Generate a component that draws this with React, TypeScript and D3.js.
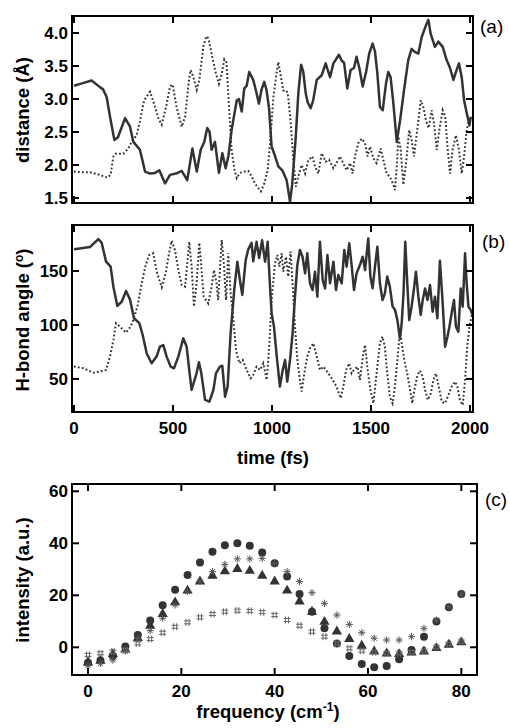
import React from "react";
import * as d3 from "d3";

// panel (a): donor-acceptor distance, two H-bonds (solid / dotted)
const distSolidT = [0, 45, 89, 131, 146, 165, 182, 204, 222, 258, 283, 300, 333, 359, 384, 409, 431, 460, 485, 515, 544, 572, 598, 620, 640, 658, 673, 685, 695, 712, 732, 749, 766, 780, 796, 822, 833, 847, 860, 872, 885, 905, 918, 934, 947, 961, 972, 985, 998, 1015, 1032, 1052, 1074, 1091, 1102, 1120, 1133, 1147, 1158, 1170, 1180, 1195, 1208, 1226, 1251, 1271, 1293, 1310, 1338, 1352, 1364, 1380, 1397, 1414, 1427, 1441, 1458, 1475, 1491, 1508, 1520, 1532, 1545, 1559, 1576, 1587, 1599, 1613, 1630, 1647, 1667, 1688, 1705, 1722, 1739, 1756, 1778, 1790, 1801, 1823, 1840, 1862, 1882, 1899, 1916, 1929, 1944, 1958, 1970, 1983, 1997, 2004];
const distSolidV = [3.2, 3.24, 3.28, 3.18, 3.15, 3.03, 2.73, 2.38, 2.42, 2.71, 2.58, 2.35, 2.23, 1.9, 1.87, 1.88, 1.92, 1.72, 1.85, 1.87, 1.91, 1.77, 2.25, 1.9, 2.23, 2.35, 2.56, 2.5, 2.23, 2.35, 1.88, 2.18, 1.95, 2.14, 2.53, 2.98, 3.0, 2.81, 3.16, 3.2, 3.41, 3.29, 3.14, 2.93, 3.14, 3.26, 3.14, 2.86, 2.28, 2.14, 1.98, 1.92, 1.77, 1.44, 1.71, 2.43, 3.09, 3.52, 3.41, 3.09, 2.95, 2.86, 2.98, 3.29, 3.36, 3.54, 3.33, 3.54, 3.67, 3.58, 3.55, 3.16, 3.44, 3.47, 3.64, 3.47, 3.19, 3.41, 3.69, 3.84, 3.72, 3.39, 2.88, 2.83, 3.24, 3.41, 3.33, 2.93, 2.35, 2.68, 3.14, 3.59, 3.76, 3.71, 3.69, 3.94, 4.12, 4.2, 3.99, 3.79, 3.87, 3.79, 3.59, 3.47, 3.29, 3.41, 3.54, 3.33, 2.98, 2.79, 2.6, 2.73];

const distDotT = [0, 40, 81, 131, 168, 185, 199, 210, 249, 274, 291, 316, 333, 354, 384, 404, 426, 443, 465, 485, 498, 518, 544, 561, 581, 589, 602, 620, 633, 653, 668, 679, 695, 712, 732, 746, 759, 770, 783, 796, 810, 822, 838, 860, 880, 897, 914, 931, 944, 961, 978, 990, 1007, 1024, 1032, 1045, 1057, 1074, 1082, 1096, 1108, 1120, 1133, 1150, 1167, 1183, 1204, 1217, 1234, 1251, 1271, 1288, 1310, 1326, 1343, 1364, 1377, 1394, 1407, 1419, 1436, 1453, 1470, 1482, 1495, 1512, 1528, 1549, 1562, 1579, 1596, 1613, 1621, 1630, 1638, 1650, 1663, 1677, 1693, 1705, 1717, 1727, 1739, 1751, 1764, 1778, 1791, 1806, 1818, 1832, 1845, 1862, 1875, 1886, 1899, 1912, 1929, 1944, 1958, 1970, 1983, 2000];
const distDotV = [1.9, 1.89, 1.89, 1.85, 1.81, 1.85, 2.13, 2.17, 2.17, 2.25, 2.35, 2.45, 2.66, 2.98, 3.11, 2.93, 2.71, 2.61, 2.88, 3.19, 3.22, 2.88, 2.58, 2.73, 3.29, 3.44, 3.34, 3.14, 3.29, 3.79, 3.95, 3.92, 3.69, 3.44, 3.23, 3.38, 3.6, 3.55, 2.88, 2.23, 1.93, 1.8, 1.88, 1.9, 1.91, 1.83, 1.72, 1.65, 1.6, 1.72, 1.92, 2.33, 3.03, 3.41, 3.56, 3.33, 3.13, 3.13, 3.03, 2.58, 2.08, 1.67, 1.83, 2.0, 1.87, 2.07, 2.13, 1.98, 1.87, 2.18, 2.05, 2.08, 1.95, 2.03, 2.13, 2.0, 1.92, 2.03, 1.87, 2.13, 2.33, 2.4, 2.33, 2.13, 2.28, 2.1, 2.03, 2.25, 2.08, 1.87, 1.82, 1.7, 1.62, 1.98, 2.43, 2.23, 1.7, 2.03, 2.53, 2.38, 2.13, 2.38, 2.67, 2.98, 2.88, 2.67, 2.56, 2.83, 2.63, 2.23, 2.53, 2.83, 2.73, 2.28, 1.87, 2.23, 2.45, 2.23, 1.87, 2.13, 2.53, 2.73];

// panel (b): H-bond angle
const angSolidT = [0, 10, 81, 123, 140, 162, 185, 199, 219, 241, 263, 283, 303, 330, 347, 367, 392, 417, 434, 451, 468, 488, 505, 527, 552, 569, 582, 594, 619, 631, 643, 662, 684, 704, 717, 737, 749, 763, 776, 791, 810, 825, 838, 850, 867, 880, 897, 905, 922, 935, 950, 965, 978, 990, 998, 1010, 1024, 1040, 1054, 1066, 1077, 1091, 1104, 1116, 1128, 1141, 1154, 1167, 1178, 1192, 1205, 1217, 1229, 1242, 1256, 1268, 1280, 1293, 1310, 1323, 1335, 1352, 1365, 1377, 1390, 1402, 1414, 1427, 1444, 1458, 1470, 1486, 1497, 1508, 1520, 1532, 1545, 1558, 1570, 1582, 1595, 1609, 1621, 1633, 1646, 1655, 1664, 1673, 1683, 1693, 1705, 1717, 1727, 1739, 1751, 1761, 1773, 1785, 1798, 1811, 1823, 1835, 1848, 1862, 1874, 1886, 1896, 1907, 1919, 1929, 1941, 1953, 1963, 1975, 1983, 1992, 2003, 2013];
const angSolidV = [170, 170.4, 172.2, 179.6, 176, 158.6, 154, 135.5, 117.6, 121.5, 131.5, 123.5, 106.2, 101.7, 90.7, 73.8, 64.5, 70.7, 79.9, 81.4, 70.7, 61.4, 59.9, 70.7, 87.7, 79.9, 58.3, 39.8, 55.2, 65.5, 55.2, 30.6, 29, 39.8, 55.2, 61.4, 62.3, 33.6, 43, 92.3, 134, 158.6, 141.5, 127.8, 160, 170, 176, 159, 177, 162, 178.5, 158.6, 177, 135.5, 111, 98.5, 70.7, 42.9, 58.3, 67.6, 47.5, 67.6, 92.3, 126.2, 155.6, 169.4, 163.2, 147.8, 166.4, 138.6, 132.4, 149.4, 126.2, 177, 141.5, 133.8, 164.8, 138.6, 158.6, 132.4, 146.3, 138.6, 169.4, 154, 175.6, 155.5, 132.4, 147.8, 155.5, 163.2, 150.9, 180.2, 144.8, 134, 154, 172.5, 138.6, 123.1, 129.3, 144.8, 135.5, 117, 114, 104.7, 87.7, 101.6, 129.3, 177, 138.6, 104.6, 117, 133.8, 149.4, 126.2, 109.3, 123.1, 133.8, 123.1, 137, 112.3, 126.2, 106.2, 159.5, 120, 79.9, 89.1, 98.4, 110.8, 123.1, 98.4, 93.8, 133.8, 117, 166.4, 138.6, 117, 114, 109.3];

const angDotT = [0, 46, 101, 162, 182, 199, 212, 232, 263, 286, 300, 320, 342, 362, 380, 400, 420, 443, 463, 480, 493, 510, 527, 544, 561, 572, 582, 594, 606, 619, 633, 643, 655, 678, 695, 707, 720, 728, 746, 758, 768, 779, 791, 805, 818, 835, 852, 872, 892, 905, 922, 939, 956, 973, 986, 998, 1015, 1027, 1037, 1049, 1057, 1071, 1082, 1094, 1104, 1116, 1128, 1141, 1150, 1163, 1178, 1192, 1209, 1226, 1242, 1259, 1285, 1306, 1326, 1347, 1360, 1374, 1390, 1402, 1414, 1431, 1444, 1461, 1470, 1481, 1497, 1512, 1528, 1545, 1558, 1570, 1582, 1595, 1609, 1621, 1633, 1646, 1660, 1671, 1683, 1697, 1708, 1722, 1735, 1747, 1761, 1773, 1787, 1802, 1815, 1828, 1842, 1857, 1874, 1891, 1907, 1924, 1936, 1949, 1963, 1975, 1986, 1997, 2009];
const angDotV = [61.5, 59.9, 55.8, 58.3, 70.7, 86.1, 101.6, 98.5, 92.9, 98.5, 104.6, 117, 138.6, 155.5, 164.8, 166.4, 147.8, 134.9, 147.8, 166.4, 178, 169.4, 150.9, 137, 135.5, 157, 177, 154, 117, 138.6, 176.2, 154, 126.2, 120, 135.5, 150.9, 138.6, 123.1, 178.7, 154, 123.1, 166.4, 129.3, 104.6, 76.8, 64.5, 67.6, 58.3, 50.6, 53.7, 61.4, 58.3, 64.5, 49.1, 79.9, 123.1, 157.1, 164.8, 154, 166.4, 149.4, 163.2, 144.8, 167.9, 138.6, 98.5, 67.6, 49.1, 38.4, 55.2, 70.7, 78.4, 83, 70.7, 58.3, 61.4, 55.2, 49.1, 42.9, 32.2, 42.9, 58.3, 64.5, 55.2, 58.3, 61.4, 49.1, 73.8, 81.5, 61.4, 39.8, 27.5, 55.2, 83, 89.2, 79.9, 55.2, 33.6, 27.5, 42.9, 67.6, 93.8, 76.8, 64.5, 55.2, 39.8, 27.5, 42.9, 53.7, 57.7, 52.2, 39.8, 30.6, 36.7, 49.1, 55.2, 42.9, 29, 27.5, 35.2, 42.9, 47.5, 42.9, 30.6, 25.9, 49.1, 79.9, 98.5, 109.3];

// panel (c): spectra
const freq = [0, 2.67, 5.33, 8, 10.67, 13.33, 16, 18.67, 21.33, 24, 26.67, 29.33, 32, 34.67, 37.33, 40, 42.67, 45.33, 48, 50.67, 53.33, 56, 58.67, 61.33, 64, 66.67, 69.33, 72, 74.67, 77.33, 80];
const circleV = [-5.9, -5.1, -3.3, 0.3, 4.7, 10.3, 16.2, 22.1, 27.8, 32.6, 36.7, 39.2, 40.0, 39.1, 36.5, 32.3, 27.2, 20.5, 13.7, 7.3, 1.5, -3.3, -6.4, -7.7, -7.2, -4.6, -1.0, 4.1, 9.9, 15.4, 20.5];
const triangleV = [-5.5, -4.9, -2.3, -0.5, 3.8, 8.6, 13.1, 17.6, 22.1, 25.6, 27.8, 29.5, 30.4, 29.7, 27.8, 25.6, 22.1, 17.9, 14.0, 10.1, 6.4, 3.5, 0.9, -1.3, -2.1, -2.3, -1.7, -1.3, 0, 1.3, 2.2];
const asteriskV = [-7, -6.2, -4.9, -1.5, 3.5, 6.4, 11.2, 16.3, 21.4, 25.3, 29.1, 31.9, 34.0, 34.0, 34.2, 32.1, 29.1, 25.3, 21.0, 16.9, 12.4, 8.8, 5.6, 3.5, 2.8, 2.8, 4.1, 7.3, 10.5, 15.6, 20.5];
const hashV = [-2.9, -2.3, -1.7, -1.0, 1.5, 3.2, 5.6, 7.9, 9.6, 11.5, 12.8, 13.7, 14.1, 14.0, 13.5, 12.4, 10.5, 8.3, 6.0, 4.1, 1.5, -0.4, -1.3, -1.9, -2.3, -2.3, -1.9, -1.3, 0, 1.3, 2.2];

const timeTicks = [0, 500, 1000, 1500, 2000];
const distTicks = [1.5, 2.0, 2.5, 3.0, 3.5, 4.0];
const angTicks = [50, 100, 150];
const freqTicks = [0, 20, 40, 60, 80];
const intTicks = [0, 20, 40, 60];

const FONT = "'Liberation Sans', Arial, Helvetica, sans-serif";
const INK = "#333";
const TICK = 7;
const TICK_FS = 17;
const TITLE_FS = 18.5;

type Scale = d3.ScaleLinear<number, number>;

function Frame({ x, y, xTicks, yTicks, yFmt, xLabels }: {
  x: Scale; y: Scale; xTicks: number[]; yTicks: number[]; yFmt: (v: number) => string; xLabels: boolean;
}) {
  const [x0, x1] = x.range();
  const [y0, y1] = y.range(); // y0 bottom, y1 top
  return (
    <g>
      {xTicks.map((t) => (
        <g key={"x" + t}>
          <line x1={x(t)} x2={x(t)} y1={y0} y2={y0 - TICK} stroke="#000" strokeWidth={2} />
          <line x1={x(t)} x2={x(t)} y1={y1} y2={y1 + TICK} stroke="#000" strokeWidth={2} />
          {xLabels && (
            <text x={x(t)} y={y0 + 22} textAnchor="middle" fontSize={TICK_FS} fontWeight="bold" fontFamily={FONT}>
              {t}
            </text>
          )}
        </g>
      ))}
      {yTicks.map((t) => (
        <g key={"y" + t}>
          <line x1={x0} x2={x0 + TICK} y1={y(t)} y2={y(t)} stroke="#000" strokeWidth={2} />
          <line x1={x1} x2={x1 - TICK} y1={y(t)} y2={y(t)} stroke="#000" strokeWidth={2} />
          <text x={x0 - 4} y={y(t)} dy="0.36em" textAnchor="end" fontSize={TICK_FS} fontWeight="bold" fontFamily={FONT}>
            {yFmt(t)}
          </text>
        </g>
      ))}
      <rect x={x0} y={y1} width={x1 - x0} height={y0 - y1} fill="none" stroke="#000" strokeWidth={2} />
    </g>
  );
}

function YTitle({ cy, children }: { cy: number; children: React.ReactNode }) {
  return (
    <text transform={`translate(29,${cy}) rotate(-90)`} textAnchor="middle" fontSize={TITLE_FS} fontWeight="bold" fontFamily={FONT}>
      {children}
    </text>
  );
}

export default function App() {
  const xT = d3.scaleLinear().domain([-10, 2015]).range([72, 473]);
  const yA = d3.scaleLinear().domain([1.424, 4.258]).range([203, 16]);
  const yB = d3.scaleLinear().domain([19.4, 192.6]).range([412, 225]);
  const xF = d3.scaleLinear().domain([-3.43, 83.36]).range([72, 477]);
  const yC = d3.scaleLinear().domain([-10.65, 62.8]).range([675, 484]);

  const path = (T: number[], V: number[], y: Scale) =>
    d3.line<number>().x((_d, i) => xT(T[i])).y((d) => y(d))(V) || "";

  const tri = d3.symbol().type(d3.symbolTriangle).size(46)() || "";

  const solid = { fill: "none", stroke: INK, strokeWidth: 2.5, strokeLinejoin: "round" as const };
  const dotted = { fill: "none", stroke: INK, strokeWidth: 2, strokeDasharray: "1.8 2.2" };

  return (
    <svg width={509} height={728} style={{ position: "absolute", left: 0, top: 0, background: "#fff" }}>
      {/* (a) */}
      <path d={path(distDotT, distDotV, yA)} {...dotted} />
      <path d={path(distSolidT, distSolidV, yA)} {...solid} />
      <Frame x={xT} y={yA} xTicks={timeTicks} yTicks={distTicks} yFmt={d3.format(".1f")} xLabels={false} />
      <YTitle cy={110}>distance (Å)</YTitle>
      <text x={480} y={33} fontSize={19} fontFamily={FONT}>(a)</text>

      {/* (b) */}
      <path d={path(angDotT, angDotV, yB)} {...dotted} />
      <path d={path(angSolidT, angSolidV, yB)} {...solid} />
      <Frame x={xT} y={yB} xTicks={timeTicks} yTicks={angTicks} yFmt={String} xLabels={true} />
      <YTitle cy={320}>
        H-bond angle (<tspan fontSize={12} dy="-6">o</tspan><tspan dy="6">)</tspan>
      </YTitle>
      <text x={482} y={248} fontSize={19} fontFamily={FONT}>(b)</text>
      <text x={273} y={464} textAnchor="middle" fontSize={TITLE_FS} fontWeight="bold" fontFamily={FONT}>time (fs)</text>

      {/* (c) */}
      <g>
        {freq.map((f, i) => (
          <circle key={"c" + i} cx={xF(f)} cy={yC(circleV[i])} r={4} fill={INK} />
        ))}
        {freq.map((f, i) => (
          <path key={"t" + i} d={tri} transform={`translate(${xF(f)},${yC(triangleV[i]) + 0.8})`} fill={INK} />
        ))}
        {freq.map((f, i) => {
          const cx = xF(f), cy = yC(asteriskV[i]), r = 3.6, q = r * 0.707;
          return (
            <g key={"a" + i} stroke="#555" strokeWidth={1}>
              <line x1={cx} x2={cx} y1={cy - r} y2={cy + r} />
              <line x1={cx - r} x2={cx + r} y1={cy} y2={cy} />
              <line x1={cx - q} x2={cx + q} y1={cy - q} y2={cy + q} />
              <line x1={cx - q} x2={cx + q} y1={cy + q} y2={cy - q} />
            </g>
          );
        })}
        {freq.map((f, i) => {
          const cx = xF(f), cy = yC(hashV[i]), r = 3.5, g = 1.5;
          return (
            <g key={"h" + i} stroke="#666" strokeWidth={1}>
              <line x1={cx - g} x2={cx - g} y1={cy - r} y2={cy + r} />
              <line x1={cx + g} x2={cx + g} y1={cy - r} y2={cy + r} />
              <line x1={cx - r} x2={cx + r} y1={cy - g} y2={cy - g} />
              <line x1={cx - r} x2={cx + r} y1={cy + g} y2={cy + g} />
            </g>
          );
        })}
      </g>
      <Frame x={xF} y={yC} xTicks={freqTicks} yTicks={intTicks} yFmt={String} xLabels={true} />
      <YTitle cy={580}>intensity (a.u.)</YTitle>
      <text x={485} y={506} fontSize={19} fontFamily={FONT}>(c)</text>
      <text x={268} y={718} textAnchor="middle" fontSize={TITLE_FS} fontWeight="bold" fontFamily={FONT}>
        frequency (cm<tspan fontSize={12} dy="-7">-1</tspan><tspan dy="7">)</tspan>
      </text>
    </svg>
  );
}
